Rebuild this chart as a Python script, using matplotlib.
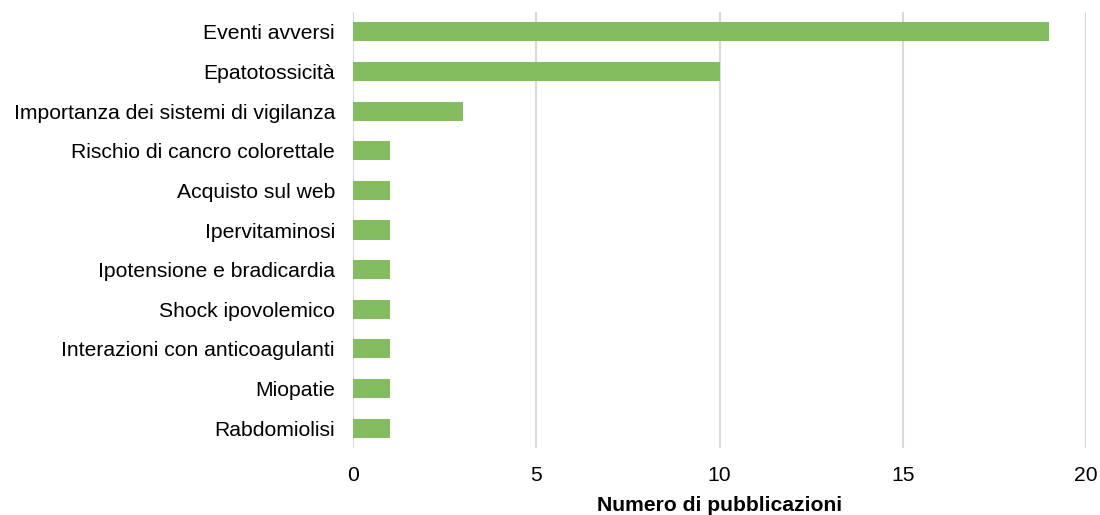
import matplotlib.pyplot as plt

plt.rcParams['font.family'] = ['Liberation Sans', 'DejaVu Sans']

categorie = ['Eventi avversi', 'Epatotossicità', 'Importanza dei sistemi di vigilanza',
             'Rischio di cancro colorettale', 'Acquisto sul web', 'Ipervitaminosi',
             'Ipotensione e bradicardia', 'Shock ipovolemico',
             'Interazioni con anticoagulanti', 'Miopatie', 'Rabdomiolisi']
valori = [19, 10, 3, 1, 1, 1, 1, 1, 1, 1, 1]

fig = plt.figure(figsize=(11, 5.15), dpi=100)
ax = fig.add_axes([353 / 1100, 1 - 448 / 515, 733 / 1100, 436 / 515])

pos = list(range(len(categorie)))
ax.barh(pos, valori, height=0.48, color='#84BD5F', zorder=3)
ax.set_yticks(pos)
ax.set_yticklabels(categorie, fontsize=15.2)
ax.set_ylim(len(categorie) - 0.5, -0.5)
ax.set_xlim(0, 20)
ax.set_xticks([0, 5, 10, 15, 20])
ax.tick_params(axis='x', labelsize=15.2, length=0, pad=13)
ax.tick_params(axis='y', length=0, pad=13)
ax.grid(axis='x', color='#D9D9D9', linewidth=1.5, zorder=0)
for s in ax.spines.values():
    s.set_visible(False)
ax.set_xlabel('Numero di pubblicazioni', fontsize=15.2, fontweight='bold', labelpad=8)

fig.savefig('out.png', dpi=100)
